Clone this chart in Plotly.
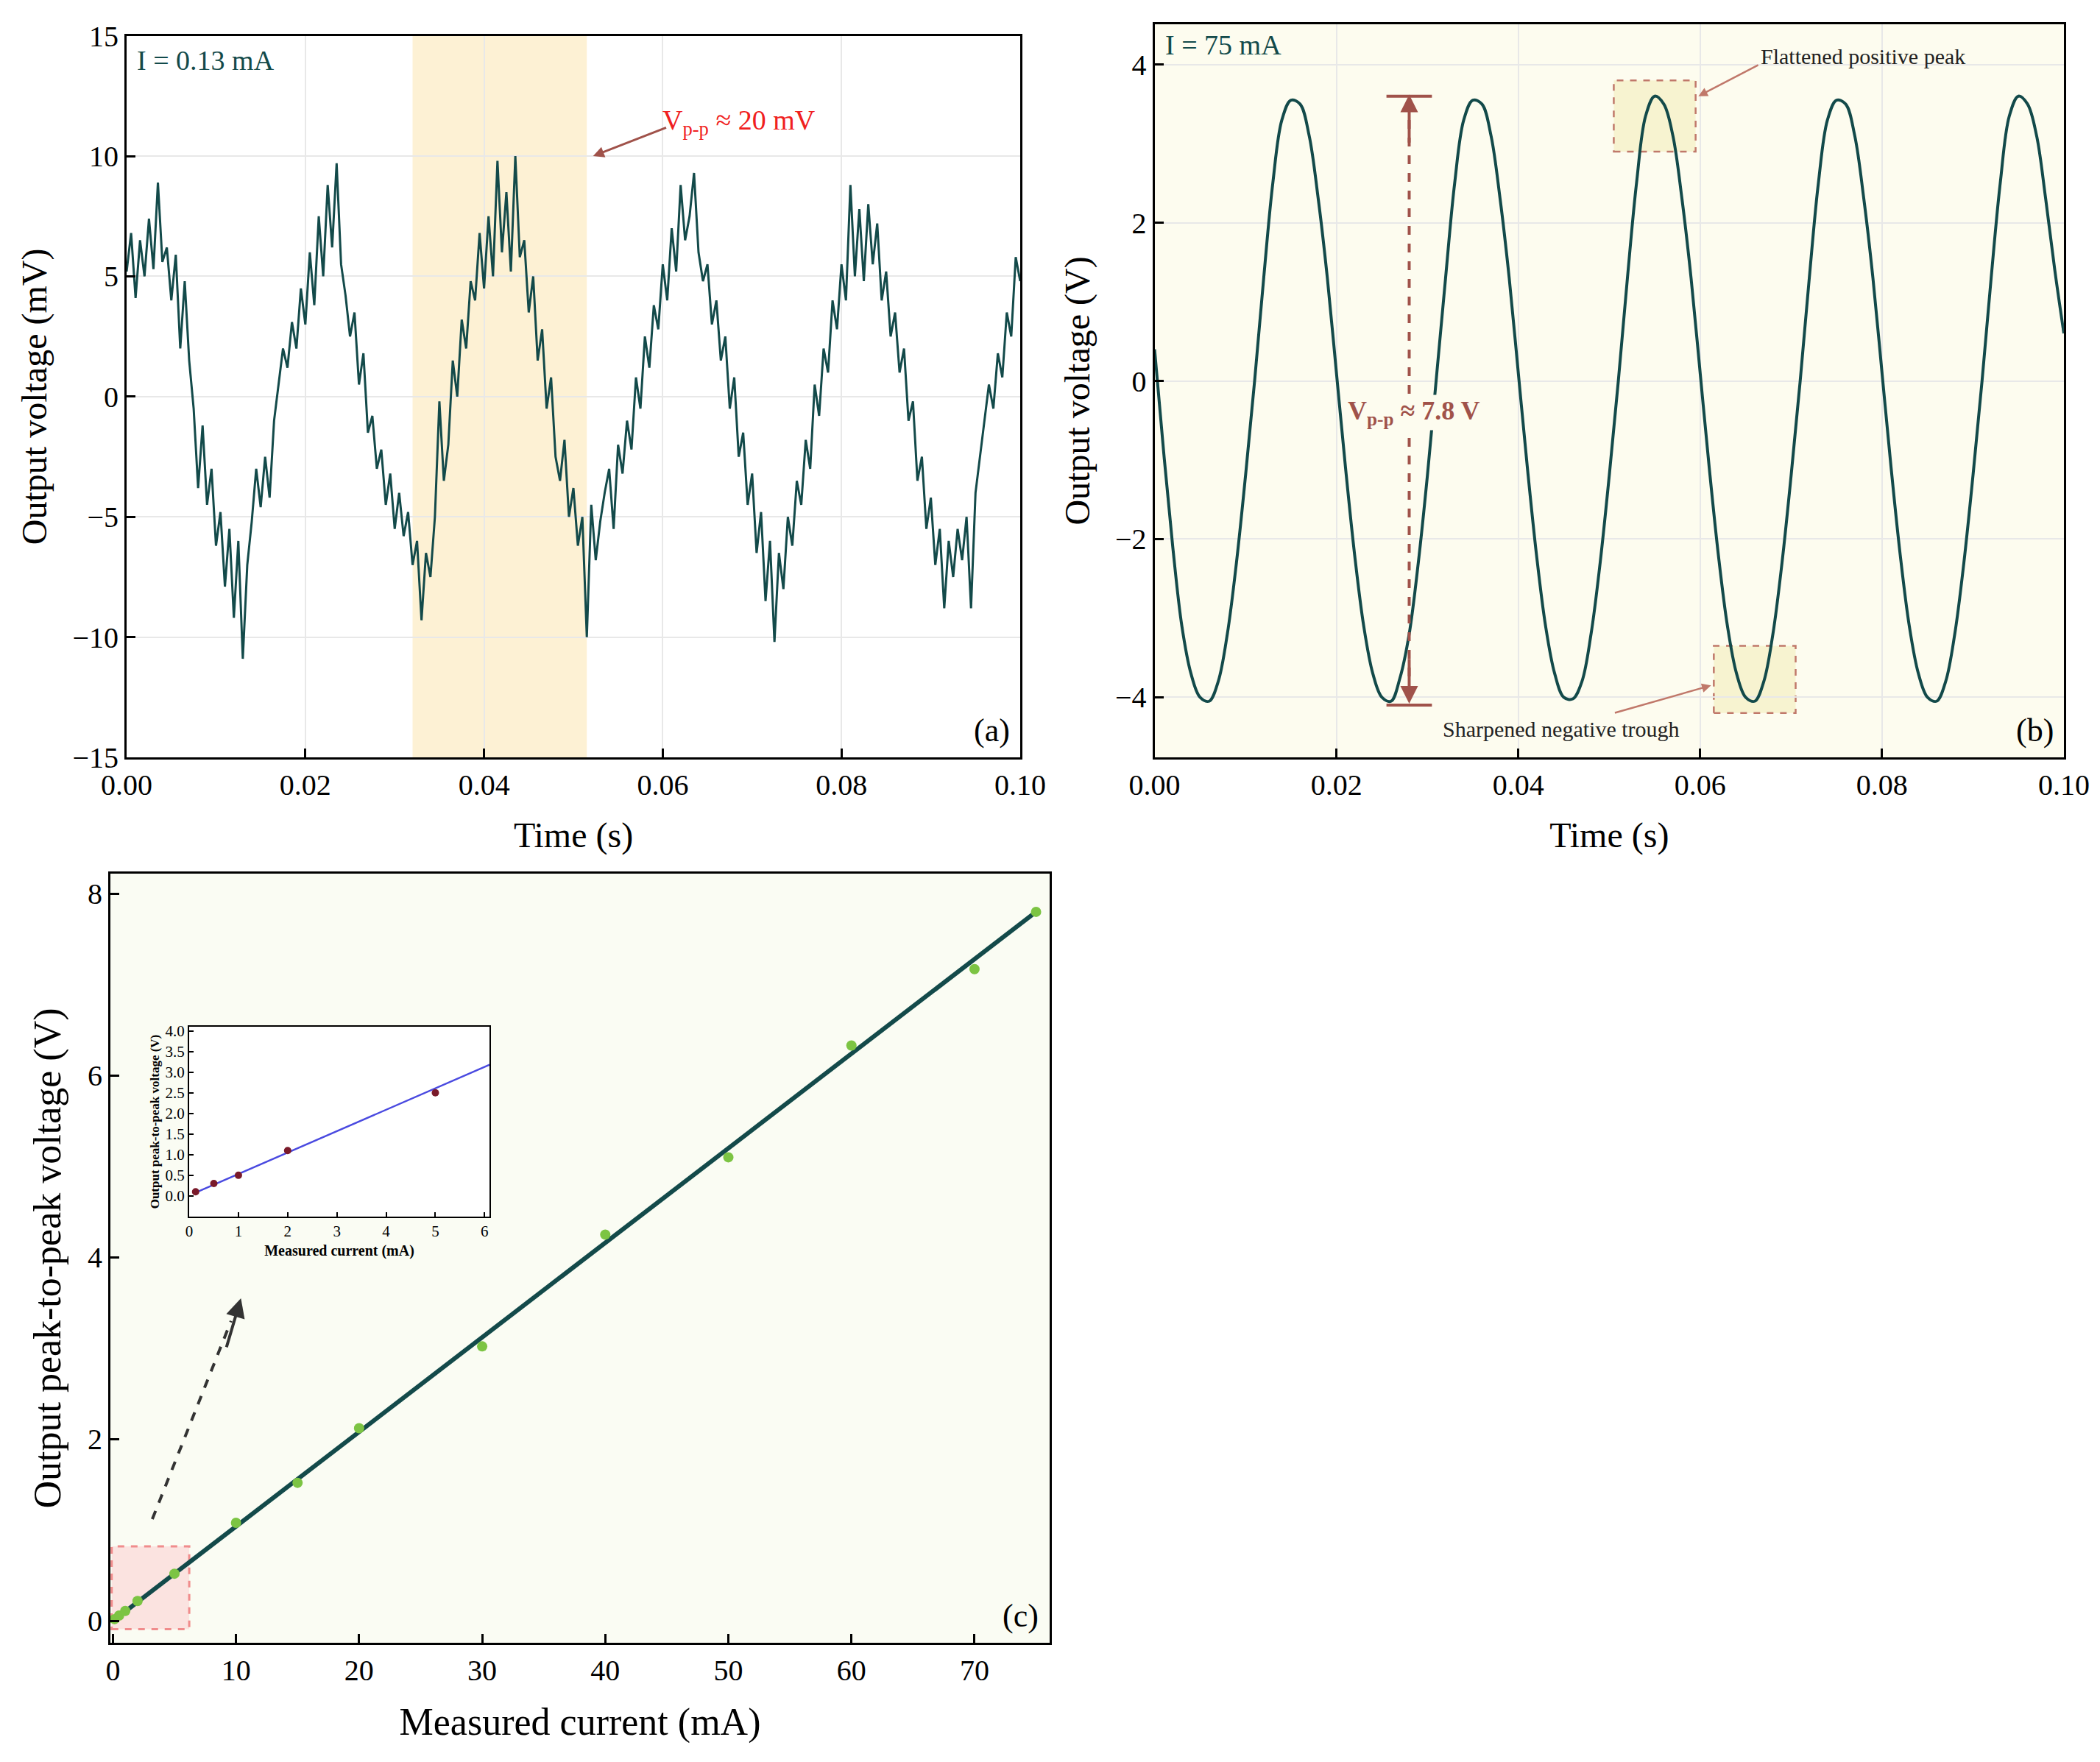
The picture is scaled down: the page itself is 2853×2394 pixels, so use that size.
import numpy as np
import plotly.graph_objects as go

# ---------------- data ----------------
va = [5.2,6.8,4.1,6.5,5.0,7.4,5.3,8.9,5.6,6.2,4.0,5.9,2.0,4.8,1.5,-0.5,-3.8,-1.2,-4.5,-3.0,
      -6.2,-4.8,-7.9,-5.5,-9.2,-6.0,-10.9,-7.0,-5.2,-3.0,-4.6,-2.5,-4.2,-1.0,0.5,2.0,1.2,3.1,2.0,4.5,
      3.0,6.0,3.8,7.5,5.0,8.8,6.2,9.7,5.5,4.2,2.5,3.5,0.5,1.8,-1.5,-0.8,-3.0,-2.2,-4.5,-3.2,
      -5.5,-4.0,-5.8,-4.8,-7.0,-6.0,-9.3,-6.5,-7.5,-5.0,-0.2,-3.5,-2.0,1.5,0.0,3.2,2.0,4.8,4.0,6.8,
      4.5,7.5,5.0,9.8,6.0,8.5,5.2,10.0,5.8,6.5,3.5,5.0,1.5,2.8,-0.5,0.8,-2.5,-3.5,-1.8,-5.0,
      -3.8,-6.2,-5.0,-10.0,-4.5,-6.8,-5.2,-4.0,-3.0,-5.5,-2.0,-3.2,-1.0,-2.2,0.8,-0.5,2.5,1.2,3.8,2.8,
      5.5,4.0,7.0,5.2,8.8,6.5,7.5,9.3,6.0,4.8,5.5,3.0,4.0,1.5,2.5,-0.5,0.8,-2.5,-1.5,-4.5,
      -3.2,-6.5,-4.8,-8.5,-6.0,-10.2,-6.5,-8.0,-5.0,-6.2,-3.5,-4.5,-1.8,-3.0,0.5,-0.8,2.0,1.0,4.0,2.8,
      5.5,4.0,8.8,5.0,7.8,4.8,8.0,5.5,7.2,4.0,5.2,2.5,3.5,1.0,2.0,-1.0,-0.2,-3.5,-2.5,-5.5,
      -4.2,-7.0,-5.5,-8.8,-6.0,-7.5,-5.5,-6.8,-5.0,-8.8,-4.0,-2.5,-1.0,0.5,-0.5,1.8,0.8,3.5,2.5,5.8,4.8]
ta = np.linspace(0, 0.1, len(va))

vb = [0.4,-0.9,-2.1,-3.1,-3.7,-4.0,-4.05,-3.8,-3.2,-2.3,-1.2,0.0,1.3,2.5,3.3,3.55,3.5,3.1,2.3,1.3,
      0.1,-1.1,-2.2,-3.1,-3.7,-4.0,-4.05,-3.75,-3.2,-2.3,-1.2,0.05,1.3,2.5,3.3,3.55,3.5,3.1,2.3,1.3,
      0.1,-1.1,-2.2,-3.1,-3.7,-4.0,-4.02,-3.8,-3.2,-2.3,-1.2,0.0,1.3,2.5,3.35,3.6,3.5,3.1,2.3,1.3,
      0.1,-1.1,-2.2,-3.1,-3.7,-4.0,-4.05,-3.8,-3.2,-2.3,-1.2,0.0,1.3,2.5,3.3,3.55,3.5,3.1,2.3,1.3,
      0.1,-1.1,-2.2,-3.1,-3.7,-4.0,-4.05,-3.8,-3.2,-2.3,-1.2,0.0,1.3,2.5,3.35,3.6,3.5,3.1,2.3,1.4,0.6]
tb = np.linspace(0, 0.1, len(vb))

ic = [0.13, 0.5, 1, 2, 5, 10, 15, 20, 30, 40, 50, 60, 70, 75]
vc = [0.02, 0.06, 0.11, 0.22, 0.52, 1.08, 1.52, 2.12, 3.02, 4.25, 5.1, 6.33, 7.17, 7.8]
fit_x = [0, 75]
fit_y = [0, 7.8]

ii = [0.13, 0.5, 1, 2, 5]
vi = [0.1, 0.3, 0.5, 1.1, 2.5]
fit_ix = [0.13, 6.1]
fit_iy = [0.08, 3.18]
inset_yticks = [0, 0.5, 1, 1.5, 2, 2.5, 3, 3.5, 4]

TEAL = "#134a4a"
FONT = "Liberation Serif"

fig = go.Figure()
fig.add_trace(go.Scatter(x=ta, y=va, mode="lines", line=dict(color=TEAL, width=3), xaxis="x", yaxis="y"))
fig.add_trace(go.Scatter(x=tb, y=vb, mode="lines", line=dict(color=TEAL, width=4, shape="spline"), xaxis="x2", yaxis="y2"))
fig.add_trace(go.Scatter(x=fit_x, y=fit_y, mode="lines", line=dict(color=TEAL, width=6), xaxis="x3", yaxis="y3"))
fig.add_trace(go.Scatter(x=ic, y=vc, mode="markers", marker=dict(color="#7cc443", size=14), xaxis="x3", yaxis="y3"))
fig.add_trace(go.Scatter(x=fit_ix, y=fit_iy, mode="lines", line=dict(color="#4a4ae0", width=2.5), xaxis="x4", yaxis="y4"))
fig.add_trace(go.Scatter(x=ii, y=vi, mode="markers", marker=dict(color="#7a1a2a", size=10), xaxis="x4", yaxis="y4"))

ax = dict(showline=True, linecolor="black", linewidth=3, mirror=True, ticks="inside", ticklen=12,
          tickwidth=3, tickcolor="black", tickfont=dict(size=40, family=FONT, color="black"),
          showgrid=True, gridcolor="#e8e8e8", gridwidth=2, zeroline=False, automargin=False)
tf = dict(size=48, family=FONT, color="black")
tfc = dict(size=52, family=FONT, color="black")
sf = dict(size=21, family=FONT, color="black")

fig.update_layout(
    width=2853, height=2394, margin=dict(l=0, r=0, t=0, b=0), showlegend=False,
    paper_bgcolor="white", plot_bgcolor="white", font=dict(family=FONT),
    xaxis=dict(ax, domain=[0.0575, 0.483], range=[0, 0.1], dtick=0.02, tickformat=".2f",
               title=dict(text="Time (s)", font=tf, standoff=30), anchor="y"),
    yaxis=dict(ax, domain=[0.5735, 0.983], range=[-15, 15], dtick=5,
               title=dict(text="Output voltage (mV)", font=tf, standoff=20), anchor="x"),
    xaxis2=dict(ax, domain=[0.547, 0.980], range=[0, 0.1], dtick=0.02, tickformat=".2f",
                title=dict(text="Time (s)", font=tf, standoff=30), anchor="y2"),
    yaxis2=dict(ax, domain=[0.5735, 0.9896], range=[-4.76, 4.51], dtick=2,
                title=dict(text="Output voltage (V)", font=tf, standoff=20), anchor="x2"),
    xaxis3=dict(ax, domain=[0.0498, 0.497], range=[-0.2, 76.1], dtick=10, showgrid=False,
                title=dict(text="Measured current (mA)", font=tfc, standoff=30), anchor="y3"),
    yaxis3=dict(ax, domain=[0.071, 0.5075], range=[-0.24, 8.22], dtick=2, showgrid=False,
                title=dict(text="Output peak-to-peak voltage (V)", font=tfc, standoff=20), anchor="x3"),
    xaxis4=dict(ax, domain=[0.0873, 0.2303], range=[0, 6.1], dtick=1, showgrid=False, ticklen=6, tickwidth=2,
                linewidth=2, tickfont=sf,
                title=dict(text="<b>Measured current (mA)</b>", font=dict(size=20, family=FONT, color="black"), standoff=8),
                anchor="y4"),
    yaxis4=dict(ax, domain=[0.3129, 0.4206], range=[-0.5, 4.1], tickvals=inset_yticks, tickformat=".1f", showgrid=False,
                ticklen=6, tickwidth=2, linewidth=2, tickfont=sf,
                title=dict(text="<b>Output peak-to-peak voltage (V)</b>", font=dict(size=17, family=FONT, color="black"), standoff=4),
                anchor="x4"),
)

shapes = []
shapes.append(dict(type="rect", xref="x2 domain", yref="y2 domain", x0=0, x1=1, y0=0, y1=1,
                   fillcolor="#fdfcef", line_width=0, layer="below"))
shapes.append(dict(type="rect", xref="x3 domain", yref="y3 domain", x0=0, x1=1, y0=0, y1=1,
                   fillcolor="#fafcf3", line_width=0, layer="below"))
top = np.array([252, 214, 196]); bot = np.array([255, 252, 232])
n = 20
for k in range(n):
    c = top + (bot - top) * k / (n - 1)
    shapes.append(dict(type="rect", xref="x4 domain", yref="y4 domain", x0=0, x1=1,
                       y0=1 - (k + 1) / n, y1=1 - k / n, fillcolor="rgb(%d,%d,%d)" % tuple(c),
                       line_width=0, layer="below"))
shapes.append(dict(type="rect", xref="x", yref="y domain", x0=0.032, x1=0.0515, y0=0, y1=1,
                   fillcolor="#fdf1d4", line_width=0, layer="below"))
BR = "#c0786a"
shapes.append(dict(type="rect", xref="x2", yref="y2", x0=0.0505, x1=0.0595, y0=2.9, y1=3.8, layer="below",
                   fillcolor="#f7f3d0", line=dict(color=BR, width=2.5, dash="dash")))
shapes.append(dict(type="rect", xref="x2", yref="y2", x0=0.0615, x1=0.0705, y0=-4.2, y1=-3.35, layer="below",
                   fillcolor="#f7f3d0", line=dict(color=BR, width=2.5, dash="dash")))
VB = "#a0524a"
shapes.append(dict(type="line", xref="x2", yref="y2", x0=0.0255, x1=0.0305, y0=3.6, y1=3.6, line=dict(color=VB, width=4)))
shapes.append(dict(type="line", xref="x2", yref="y2", x0=0.0255, x1=0.0305, y0=-4.1, y1=-4.1, line=dict(color=VB, width=4)))
shapes.append(dict(type="line", xref="x2", yref="y2", x0=0.028, x1=0.028, y0=3.3, y1=-3.8,
                   line=dict(color=VB, width=4, dash="dash")))
shapes.append(dict(type="rect", xref="x3", yref="y3", x0=-0.1, x1=6.2, y0=-0.09, y1=0.82, layer="below",
                   fillcolor="#fbe3e0", line=dict(color="#f08c8c", width=3, dash="dash")))
shapes.append(dict(type="line", xref="x3", yref="y3", x0=3.2, y0=1.12, x1=9.6, y1=3.3,
                   line=dict(color="#333333", width=4, dash="dash")))
fig.update_layout(shapes=shapes)

anns = [
    dict(xref="x domain", yref="y domain", x=0.01, y=0.99, text="I = 0.13 mA", showarrow=False,
         xanchor="left", yanchor="top", font=dict(size=38, family=FONT, color=TEAL)),
    dict(xref="x domain", yref="y domain", x=0.99, y=0.01, text="(a)", showarrow=False,
         xanchor="right", yanchor="bottom", font=dict(size=44, family=FONT, color="black")),
    dict(xref="x", yref="y", x=0.0685, y=11.4, text="V<sub>p-p</sub> ≈ 20 mV", showarrow=False,
         font=dict(size=38, family=FONT, color="#f02020")),
    dict(xref="x", yref="y", ax=0.0605, ay=11.2, axref="x", ayref="y", x=0.0522, y=10.0, text="",
         showarrow=True, arrowhead=2, arrowsize=1, arrowwidth=3, arrowcolor="#a0524a"),
    dict(xref="x2 domain", yref="y2 domain", x=0.01, y=0.995, text="I = 75 mA", showarrow=False,
         xanchor="left", yanchor="top", font=dict(size=38, family=FONT, color=TEAL)),
    dict(xref="x2 domain", yref="y2 domain", x=0.99, y=0.01, text="(b)", showarrow=False,
         xanchor="right", yanchor="bottom", font=dict(size=44, family=FONT, color="black")),
    dict(xref="x2", yref="y2", x=0.0285, y=-0.4, text="<b>V<sub>p-p</sub> ≈ 7.8 V</b>", showarrow=False,
         font=dict(size=36, family=FONT, color=VB), bgcolor="#fdfcef"),
    dict(xref="x2", yref="y2", x=0.028, y=3.62, ax=0.028, ay=3.0, axref="x2", ayref="y2", text="",
         showarrow=True, arrowhead=2, arrowsize=1.2, arrowwidth=4, arrowcolor=VB),
    dict(xref="x2", yref="y2", x=0.028, y=-4.08, ax=0.028, ay=-3.5, axref="x2", ayref="y2", text="",
         showarrow=True, arrowhead=2, arrowsize=1.2, arrowwidth=4, arrowcolor=VB),
    dict(xref="x2", yref="y2", x=0.0665, y=4.1, text="Flattened positive peak", showarrow=False,
         xanchor="left", font=dict(size=30, family=FONT, color="#222222")),
    dict(xref="x2", yref="y2", ax=0.0665, ay=4.0, axref="x2", ayref="y2", x=0.0598, y=3.6, text="",
         showarrow=True, arrowhead=2, arrowsize=1, arrowwidth=2.5, arrowcolor=BR),
    dict(xref="x2", yref="y2", x=0.0315, y=-4.4, text="Sharpened negative trough", showarrow=False,
         xanchor="left", font=dict(size=30, family=FONT, color="#222222")),
    dict(xref="x2", yref="y2", ax=0.0505, ay=-4.2, axref="x2", ayref="y2", x=0.0612, y=-3.85, text="",
         showarrow=True, arrowhead=2, arrowsize=1, arrowwidth=2.5, arrowcolor=BR),
    dict(xref="x3 domain", yref="y3 domain", x=0.99, y=0.01, text="(c)", showarrow=False,
         xanchor="right", yanchor="bottom", font=dict(size=44, family=FONT, color="black")),
    dict(xref="x3", yref="y3", x=10.4, y=3.55, ax=9.2, ay=3.0, axref="x3", ayref="y3", text="",
         showarrow=True, arrowhead=2, arrowsize=1.3, arrowwidth=4, arrowcolor="#333333"),
]
fig.update_layout(annotations=anns)
fig.write_html("out.html")
